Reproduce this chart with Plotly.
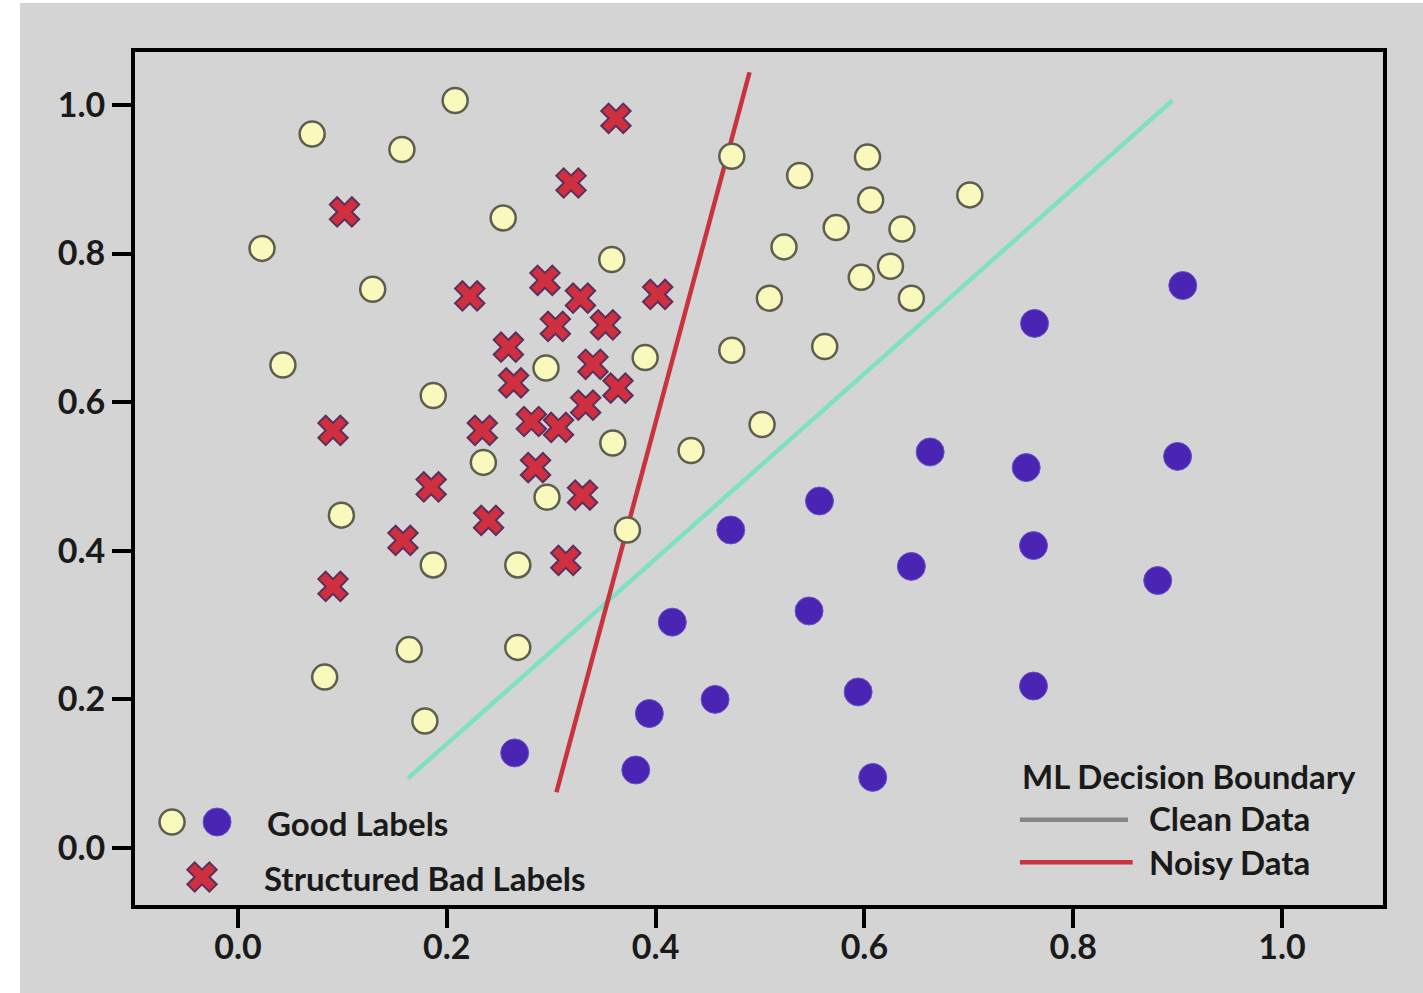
import plotly.graph_objects as go

# --- good labels, class A (pale yellow) ---
yellow_x = [0.208, 0.071, 0.157, 0.473, 0.538, 0.603, 0.701, 0.606, 0.254, 0.573,
            0.636, 0.023, 0.523, 0.358, 0.625, 0.597, 0.129, 0.509, 0.645, 0.562,
            0.473, 0.390, 0.295, 0.043, 0.187, 0.502, 0.359, 0.434, 0.235, 0.296,
            0.099, 0.373, 0.187, 0.268, 0.164, 0.268, 0.083, 0.179]
yellow_y = [1.006, 0.961, 0.940, 0.931, 0.905, 0.930, 0.879, 0.872, 0.848, 0.835,
            0.833, 0.807, 0.809, 0.792, 0.783, 0.768, 0.752, 0.740, 0.740, 0.675,
            0.670, 0.660, 0.646, 0.650, 0.609, 0.570, 0.545, 0.535, 0.519, 0.472,
            0.448, 0.428, 0.381, 0.381, 0.267, 0.270, 0.230, 0.171]

# --- good labels, class B (purple) ---
purple_x = [0.905, 0.763, 0.663, 0.755, 0.900, 0.557, 0.472, 0.762, 0.645, 0.881,
            0.547, 0.416, 0.762, 0.594, 0.457, 0.394, 0.265, 0.381, 0.608]
purple_y = [0.757, 0.706, 0.533, 0.512, 0.527, 0.467, 0.428, 0.407, 0.379, 0.360,
            0.319, 0.304, 0.218, 0.210, 0.200, 0.181, 0.128, 0.105, 0.095]

# --- structured bad labels (red crosses) ---
bad_x = [0.362, 0.319, 0.102, 0.294, 0.222, 0.402, 0.328, 0.304, 0.352, 0.259,
         0.264, 0.340, 0.364, 0.333, 0.281, 0.307, 0.234, 0.091, 0.285, 0.185,
         0.330, 0.240, 0.158, 0.314, 0.091]
bad_y = [0.982, 0.895, 0.856, 0.764, 0.743, 0.745, 0.740, 0.702, 0.704, 0.674,
         0.626, 0.651, 0.619, 0.596, 0.574, 0.566, 0.562, 0.562, 0.512, 0.486,
         0.475, 0.441, 0.414, 0.387, 0.352]

# --- decision boundaries (end points) ---
clean_x = [0.163, 0.895]
clean_y = [0.094, 1.006]
noisy_x = [0.305, 0.490]
noisy_y = [0.075, 1.044]

# --- tick values ---
x_ticks = [0.0, 0.2, 0.4, 0.6, 0.8, 1.0]
y_ticks = [0.0, 0.2, 0.4, 0.6, 0.8, 1.0]
tick_text = ["0.0", "0.2", "0.4", "0.6", "0.8", "1.0"]

BG = "#d4d4d4"
YELLOW = "#f9f9bd"
YELLOW_EDGE = "#5e5e4e"
PURPLE = "#4a24b2"
RED = "#cf2f3e"
RED_EDGE = "#5c2f5e"
MINT = "#80e0c2"
NOISY_RED = "#c9333d"
FONT = "Lato"
TEXT = "#1a1a1a"

fig = go.Figure()

fig.add_trace(go.Scatter(x=clean_x, y=clean_y, mode="lines",
                         line=dict(color=MINT, width=4.5), showlegend=False))
fig.add_trace(go.Scatter(x=noisy_x, y=noisy_y, mode="lines",
                         line=dict(color=NOISY_RED, width=4.5), showlegend=False))

fig.add_trace(go.Scatter(x=yellow_x, y=yellow_y, mode="markers",
                         marker=dict(size=25, color=YELLOW,
                                     line=dict(color=YELLOW_EDGE, width=2.5)),
                         showlegend=False))
fig.add_trace(go.Scatter(x=purple_x, y=purple_y, mode="markers",
                         marker=dict(size=28, color=PURPLE,
                                     line=dict(color="#6a50c8", width=1)),
                         showlegend=False))
fig.add_trace(go.Scatter(x=bad_x, y=bad_y, mode="markers",
                         marker=dict(size=26, symbol="x", color=RED,
                                     line=dict(color=RED_EDGE, width=2)),
                         showlegend=False))

# --- legend glyphs: sample labels (bottom left) ---
fig.add_trace(go.Scatter(x=[-0.0632], y=[0.035], mode="markers", cliponaxis=False,
                         marker=dict(size=25, color=YELLOW,
                                     line=dict(color=YELLOW_EDGE, width=2.5)),
                         showlegend=False))
fig.add_trace(go.Scatter(x=[-0.0201], y=[0.035], mode="markers", cliponaxis=False,
                         marker=dict(size=28, color=PURPLE,
                                     line=dict(color="#6a50c8", width=1)),
                         showlegend=False))
fig.add_trace(go.Scatter(x=[-0.0345], y=[-0.039], mode="markers", cliponaxis=False,
                         marker=dict(size=26, symbol="x", color=RED,
                                     line=dict(color=RED_EDGE, width=2)),
                         showlegend=False))

# --- legend glyphs: decision boundaries (bottom right) ---
fig.add_trace(go.Scatter(x=[0.749, 0.8525], y=[0.038, 0.038], mode="lines",
                         line=dict(color="#858585", width=4.5), showlegend=False))
fig.add_trace(go.Scatter(x=[0.749, 0.857], y=[-0.019, -0.019], mode="lines",
                         line=dict(color=NOISY_RED, width=4.5), showlegend=False))

legend_text = [
    ("Good Labels", 0.026, 0.034),
    ("Structured Bad Labels", 0.023, -0.040),
    ("ML Decision Boundary", 0.749, 0.097),
    ("Clean Data", 0.8707, 0.040),
    ("Noisy Data", 0.8707, -0.019),
]
for txt, ax, ay in legend_text:
    fig.add_annotation(x=ax, y=ay, text=txt, showarrow=False, xanchor="left",
                       yanchor="middle",
                       font=dict(family=FONT, size=33, color=TEXT, weight="bold"))

# gray card behind the chart, leaving a thin white strip on the left/top
fig.add_shape(type="rect", xref="paper", yref="paper", layer="below",
              x0=-0.0921, x1=1.05, y0=-0.12, y1=1.0575,
              fillcolor=BG, line=dict(width=0))

axis_common = dict(showgrid=False, zeroline=False, showline=True, mirror=True,
                   linecolor="black", linewidth=4, ticks="outside", ticklen=19,
                   tickwidth=4, tickcolor="black",
                   tickfont=dict(family=FONT, size=34, color=TEXT, weight="bold"))

fig.update_xaxes(range=[-0.0987, 1.0968], tickvals=x_ticks, ticktext=tick_text,
                 ticklabelstandoff=-10, **axis_common)
fig.update_yaxes(range=[-0.0767, 1.0713], tickvals=y_ticks, ticktext=tick_text,
                 **axis_common)

fig.update_layout(width=1423, height=993, paper_bgcolor="white", plot_bgcolor=BG,
                  margin=dict(l=135, r=40, t=52, b=88), showlegend=False)

fig.write_html("out.html")
